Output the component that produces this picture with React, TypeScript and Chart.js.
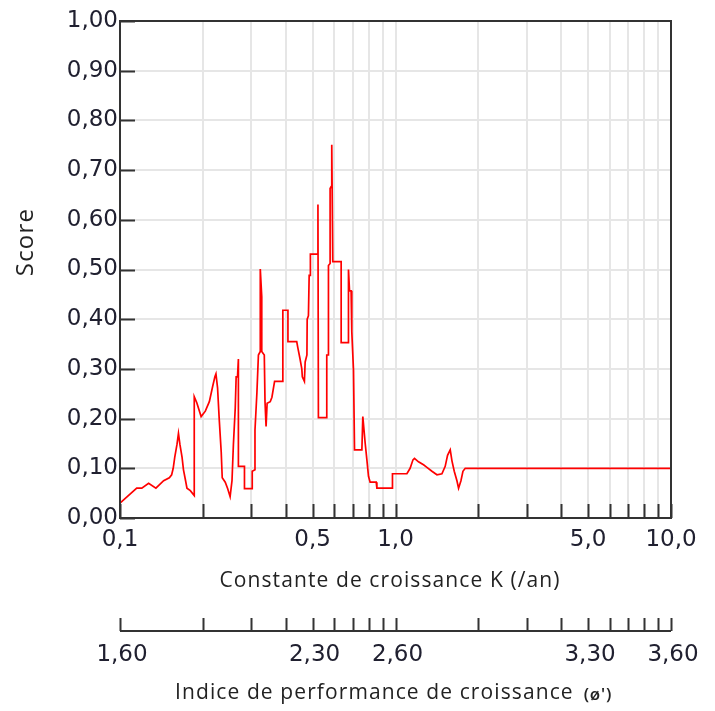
import React, { useEffect, useRef } from 'react';
import { Chart, registerables } from 'chart.js';

Chart.register(...registerables);

// Growth constant K (/year) of each point of the score curve
const kValues = [
  0.100, 0.115, 0.120, 0.127, 0.135, 0.144, 0.151, 0.154, 0.156, 0.158,
  0.161, 0.163, 0.165, 0.168, 0.170, 0.173, 0.175, 0.180, 0.186, 0.186,
  0.190, 0.197, 0.204, 0.211, 0.217, 0.221, 0.223, 0.226, 0.229, 0.233,
  0.235, 0.241, 0.246, 0.251, 0.255, 0.258, 0.262, 0.264, 0.267, 0.269,
  0.269, 0.283, 0.283, 0.302, 0.302, 0.309, 0.309, 0.314, 0.318, 0.323,
  0.323, 0.327, 0.327, 0.334, 0.336, 0.339, 0.342, 0.351, 0.356, 0.364,
  0.390, 0.390, 0.407, 0.407, 0.438, 0.442, 0.450, 0.457, 0.459, 0.467,
  0.470, 0.477, 0.478, 0.483, 0.486, 0.491, 0.491, 0.523, 0.523, 0.525,
  0.563, 0.563, 0.571, 0.571, 0.579, 0.579, 0.584, 0.587, 0.592, 0.635,
  0.635, 0.675, 0.675, 0.681, 0.690, 0.694, 0.704, 0.710, 0.755, 0.761,
  0.776, 0.787, 0.798, 0.809, 0.851, 0.856, 0.975, 0.975, 1.10, 1.13,
  1.157, 1.172, 1.212, 1.264, 1.300, 1.356, 1.414, 1.474, 1.515, 1.545,
  1.580, 1.603, 1.634, 1.671, 1.694, 1.728, 1.757, 1.791, 10,
];

// Score at each K
const scores = [
  0.030, 0.060, 0.060, 0.070, 0.060, 0.075, 0.081, 0.087, 0.100, 0.122,
  0.148, 0.170, 0.148, 0.122, 0.097, 0.075, 0.060, 0.055, 0.045, 0.244,
  0.232, 0.204, 0.215, 0.234, 0.265, 0.284, 0.290, 0.262, 0.202, 0.133,
  0.081, 0.072, 0.059, 0.043, 0.075, 0.148, 0.221, 0.284, 0.284, 0.320,
  0.104, 0.104, 0.059, 0.059, 0.094, 0.097, 0.177, 0.252, 0.328, 0.335,
  0.501, 0.445, 0.335, 0.328, 0.234, 0.184, 0.231, 0.234, 0.243, 0.275,
  0.275, 0.418, 0.418, 0.355, 0.355, 0.343, 0.321, 0.300, 0.284, 0.275,
  0.314, 0.328, 0.400, 0.407, 0.488, 0.488, 0.531, 0.531, 0.631, 0.202,
  0.202, 0.328, 0.328, 0.508, 0.512, 0.663, 0.667, 0.751, 0.516, 0.516,
  0.353, 0.353, 0.500, 0.457, 0.457, 0.375, 0.297, 0.137, 0.137, 0.204,
  0.151, 0.118, 0.084, 0.072, 0.072, 0.060, 0.060, 0.089, 0.089, 0.100,
  0.117, 0.120, 0.113, 0.107, 0.102, 0.094, 0.087, 0.089, 0.104, 0.126,
  0.137, 0.115, 0.094, 0.075, 0.060, 0.075, 0.094, 0.100, 0.100,
];

// Axis ticks
const yTicks = [0, 0.1, 0.2, 0.3, 0.4, 0.5, 0.6, 0.7, 0.8, 0.9, 1.0];
const kTicks = [0.1, 0.2, 0.3, 0.4, 0.5, 0.6, 0.7, 0.8, 0.9, 1, 2, 3, 4, 5, 6, 7, 8, 9, 10];
const kLabelTicks = [0.1, 0.5, 1, 5, 10];
const kLabels = ['0,1', '0,5', '1,0', '5,0', '10,0'];
const phiLabels = ['1,60', '2,30', '2,60', '3,30', '3,60'];

const xTitle = 'Constante de croissance K (/an)';
const yTitle = 'Score';
const phiTitle = 'Indice de performance de croissance';
const phiSymbol = "(ø')";

const AXIS = '#333333';
const GRID = '#e6e6e6';
const TEXT = '#202030';
const TITLE_COLOR = '#222222';
const TICK_FONT = '"DejaVu Sans"';
const TITLE_FONT = '"Open Sans"';

const overlay = {
  id: 'overlay',
  afterDraw(chart: any) {
    const { ctx, chartArea: a, scales } = chart;
    const xs = scales.x;
    const ys = scales.y;
    ctx.save();
    ctx.strokeStyle = AXIS;
    ctx.lineWidth = 2;
    ctx.strokeRect(a.left, a.top, a.right - a.left, a.bottom - a.top);

    // inside tick marks
    ctx.beginPath();
    yTicks.forEach((v) => {
      const py = Math.round(ys.getPixelForValue(v)) + 0.5;
      ctx.moveTo(a.left, py);
      ctx.lineTo(a.left + 15, py);
    });
    kTicks.forEach((k) => {
      const px = Math.round(xs.getPixelForValue(k)) + 0.5;
      ctx.moveTo(px, a.bottom);
      ctx.lineTo(px, a.bottom - 14);
    });
    ctx.stroke();

    // secondary axis (growth performance index)
    const axisY = a.bottom + 113;
    ctx.beginPath();
    ctx.moveTo(a.left, axisY);
    ctx.lineTo(a.right, axisY);
    kTicks.forEach((k) => {
      const px = Math.round(xs.getPixelForValue(k)) + 0.5;
      ctx.moveTo(px, axisY);
      ctx.lineTo(px, axisY - 13);
    });
    ctx.stroke();

    ctx.fillStyle = TEXT;
    ctx.textAlign = 'center';
    ctx.textBaseline = 'middle';
    ctx.font = `23px ${TICK_FONT}`;
    kLabelTicks.forEach((k, i) => {
      ctx.fillText(phiLabels[i], xs.getPixelForValue(k) + 2, axisY + 24);
    });

    // titles
    ctx.fillStyle = TITLE_COLOR;
    (ctx as any).letterSpacing = '1.1px';
    ctx.font = `500 21px ${TITLE_FONT}`;
    ctx.fillText(xTitle, 390, a.bottom + 63);

    ctx.textAlign = 'left';
    ctx.fillText(phiTitle, 175, a.bottom + 175);
    const w = ctx.measureText(phiTitle).width;
    (ctx as any).letterSpacing = '0.8px';
    ctx.font = `600 17px ${TITLE_FONT}`;
    ctx.fillText(phiSymbol, 175 + w + 10, a.bottom + 177);

    (ctx as any).letterSpacing = '1.2px';
    ctx.translate(26, 242);
    ctx.rotate(-Math.PI / 2);
    ctx.textAlign = 'center';
    ctx.font = `500 24px ${TITLE_FONT}`;
    ctx.fillText(yTitle, 0, 0);
    (ctx as any).letterSpacing = '0px';
    ctx.restore();
  },
};

export default function App() {
  const ref = useRef<HTMLCanvasElement | null>(null);

  useEffect(() => {
    document.body.style.margin = '0';
    const canvas = ref.current;
    if (!canvas) return;
    const chart = new Chart(canvas, {
      type: 'line',
      data: {
        datasets: [
          {
            data: kValues.map((k, i) => ({ x: k, y: scores[i] })),
            borderColor: '#ff0000',
            borderWidth: 1.7,
            pointRadius: 0,
            tension: 0,
            fill: false,
          },
        ],
      },
      options: {
        animation: false,
        responsive: false,
        devicePixelRatio: 1,
        layout: { padding: { top: 21, right: 44, left: 0, bottom: 0 } },
        plugins: { legend: { display: false }, tooltip: { enabled: false } },
        scales: {
          x: {
            type: 'logarithmic',
            min: 0.1,
            max: 10,
            afterBuildTicks: (s: any) => {
              s.ticks = kTicks.map((v) => ({ value: v }));
            },
            afterFit: (s: any) => {
              s.height = 193;
            },
            ticks: {
              autoSkip: false,
              maxRotation: 0,
              padding: 8,
              color: TEXT,
              font: { family: 'DejaVu Sans', size: 23 },
              callback: (v: any) => {
                const i = kLabelTicks.indexOf(Number(v));
                return i >= 0 ? kLabels[i] : '';
              },
            },
            grid: { color: GRID, lineWidth: 2, drawTicks: false },
            border: { display: true, color: AXIS, width: 2 },
          },
          y: {
            type: 'linear',
            min: 0,
            max: 1,
            afterBuildTicks: (s: any) => {
              s.ticks = yTicks.map((v) => ({ value: v }));
            },
            afterFit: (s: any) => {
              s.width = 120;
            },
            ticks: {
              padding: 2,
              color: TEXT,
              font: { family: 'DejaVu Sans', size: 23 },
              callback: (v: any) => Number(v).toFixed(2).replace('.', ','),
            },
            grid: { color: GRID, lineWidth: 2, drawTicks: false },
            border: { display: true, color: AXIS, width: 2 },
          },
        },
      },
      plugins: [overlay],
    } as any);
    return () => chart.destroy();
  }, []);

  return (
    <div style={{ width: 715, height: 711, background: '#ffffff' }}>
      <canvas ref={ref} width={715} height={711} style={{ display: 'block' }} />
    </div>
  );
}
